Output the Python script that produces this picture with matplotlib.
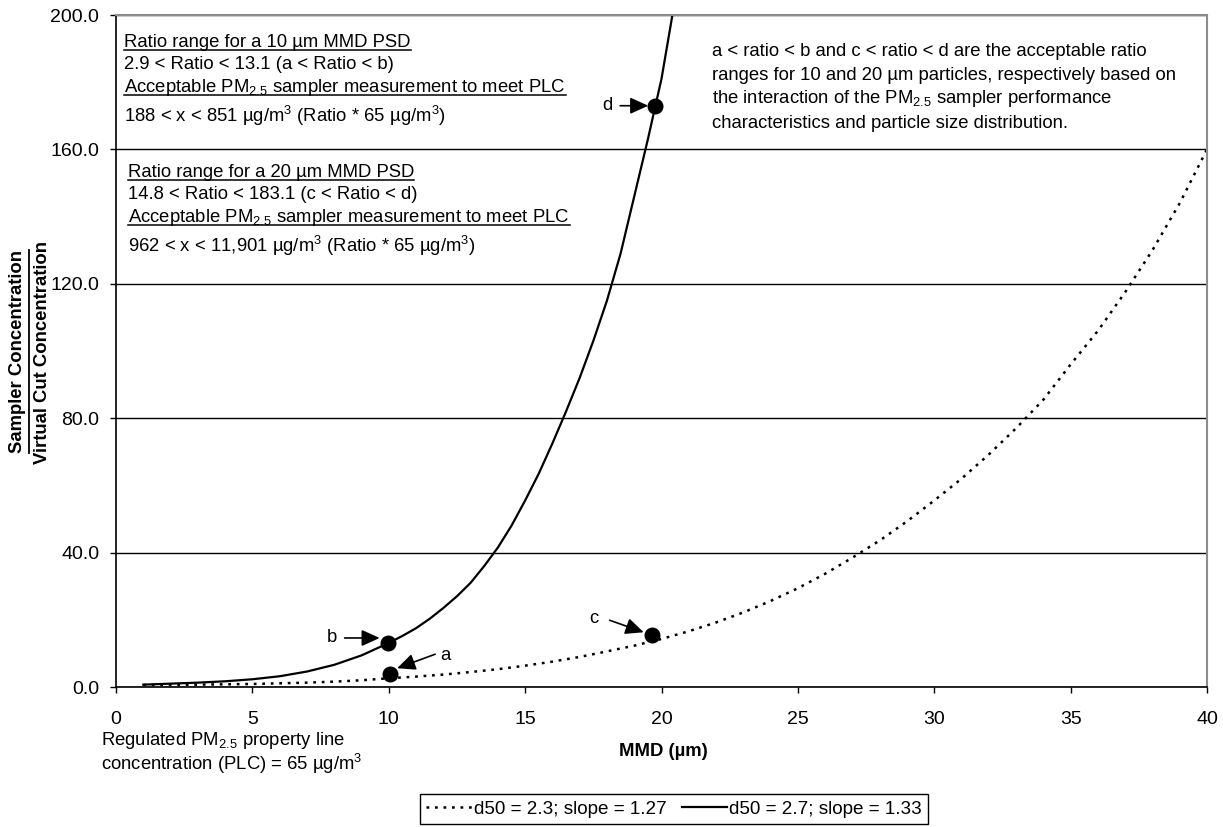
import matplotlib
matplotlib.use("Agg")
import matplotlib.pyplot as plt
from matplotlib.lines import Line2D
from matplotlib.transforms import offset_copy

plt.rcParams['font.family'] = ['Liberation Sans', 'DejaVu Sans']
plt.rcParams['mathtext.fontset'] = 'custom'
plt.rcParams['mathtext.rm'] = 'Liberation Sans'
plt.rcParams['mathtext.it'] = 'Liberation Sans:italic'
plt.rcParams['mathtext.bf'] = 'Liberation Sans:bold'

# curves
mmd_solid = [1, 2, 3, 4, 5, 6, 7, 8, 9, 10, 10.5, 11, 11.5, 12, 12.5, 13, 13.5, 14, 14.5,
             15, 15.5, 16, 16.5, 17, 17.5, 18, 18.5, 19, 19.5, 20, 20.4]
ratio_solid = [0.7, 1.0, 1.3, 1.7, 2.3, 3.2, 4.6, 6.6, 9.4, 13.1, 15.2, 17.5, 20.3, 23.5, 27.0,
               31.0, 36.0, 41.5, 48.0, 55.5, 63.5, 72.5, 82.0, 92.0, 103.0, 115.0, 129.0,
               146.0, 163.0, 181.0, 200.0]

mmd_dotted = list(range(1, 41))
ratio_dotted = [0.6, 0.6, 0.7, 0.8, 0.9, 1.1, 1.3, 1.6, 2.0, 2.6, 3.1, 3.7, 4.45, 5.3, 6.35,
                7.55, 8.95, 10.6, 12.3, 14.3, 16.6, 19.2, 22.2, 25.6, 29.4, 33.7, 38.5, 43.6,
                49.3, 55.5, 62.0, 69.2, 77.0, 85.5, 96.0, 106.0, 117.5, 130.0, 144.0, 160.0]

point_names = ['a', 'b', 'c', 'd']
point_mmd = [10.05, 9.96, 19.64, 19.77]
point_ratio = [3.8, 13.1, 15.4, 173.0]

legend_labels = ['d50 = 2.3; slope = 1.27', 'd50 = 2.7; slope = 1.33']

W, H = 1223, 827
FS = 13.3


def fx(x):
    return x / W


def fy(y):
    return 1 - y / H


fig = plt.figure(figsize=(W / 100, H / 100), dpi=100)
ax = fig.add_axes([fx(116), fy(687), fx(1207) - fx(116), fy(15) - fy(687)])

l_dot, = ax.plot(mmd_dotted, ratio_dotted, color='black', lw=1.8,
                 linestyle=(0, (1.1, 2.3)), label=legend_labels[0])
l_sol, = ax.plot(mmd_solid, ratio_solid, color='black', lw=1.6, label=legend_labels[1])
ax.plot(point_mmd, point_ratio, 'o', color='black', ms=10.5, zorder=5)

ax.set_xlim(0, 40)
ax.set_ylim(0, 200)
ax.set_xticks(range(0, 41, 5))
ax.set_yticks(range(0, 201, 40))
ax.set_yticklabels(['%.1f' % v for v in range(0, 201, 40)])
ax.tick_params(axis='both', labelsize=14, direction='out', length=4, width=1, color='black')
ax.tick_params(axis='x', pad=13.5)
ax.tick_params(axis='y', pad=8)
ax.yaxis.grid(True, color='black', lw=1)
ax.set_axisbelow(True)
for s in ['top', 'right']:
    ax.spines[s].set_color('#8c8c8c')
    ax.spines[s].set_linewidth(1.5)
for s in ['left', 'bottom']:
    ax.spines[s].set_color('black')
    ax.spines[s].set_linewidth(1.2)

# labels and arrows for a-d, offsets in pixels (label, arrow tail, arrow head)
offsets = {
    'a': ((55, 19), (45, 20), (7, 6)),
    'b': ((-56, 5), (-43, 5), (-8, 5)),
    'c': ((-58, 17), (-42, 15), (-8, 3)),
    'd': ((-48, 0), (-35, 0), (-7, 0)),
}
k = 0.72
for name, mx, my in zip(point_names, point_mmd, point_ratio):
    lab, tail, head = offsets[name]
    ax.annotate(name, xy=(mx, my), xytext=(lab[0] * k, lab[1] * k), textcoords='offset points',
                ha='center', va='center', fontsize=FS)
    tr = offset_copy(ax.transData, fig=fig, x=head[0] * k, y=head[1] * k, units='points')
    ax.annotate('', xy=(mx, my), xycoords=tr,
                xytext=((tail[0] - head[0]) * k, (tail[1] - head[1]) * k), textcoords='offset points',
                arrowprops=dict(arrowstyle='-|>,head_length=0.55,head_width=0.25', color='black',
                                lw=1.2, shrinkA=0, shrinkB=0, mutation_scale=20))

PM = r'PM$_{\mathrm{2.5}}$'
UG = r'µg/m$^{\mathrm{3}}$'

underlined = []


def put(x, y, s, under=False, **kw):
    t = fig.text(fx(x), fy(y), s, fontsize=FS, va='baseline', ha='left', **kw)
    if under:
        underlined.append(t)
    return t


put(124, 47, 'Ratio range for a 10 µm MMD PSD', under=True)
put(124, 69, '2.9 < Ratio < 13.1 (a < Ratio < b)')
put(124, 92, 'Acceptable ' + PM + ' sampler measurement to meet PLC', under=True)
put(124, 122, '188 < x < 851 ' + UG + ' (Ratio * 65 ' + UG + ')')

put(128, 177, 'Ratio range for a 20 µm MMD PSD', under=True)
put(128, 199, '14.8 < Ratio < 183.1 (c < Ratio < d)')
put(128, 222, 'Acceptable ' + PM + ' sampler measurement to meet PLC', under=True)
put(128, 252, '962 < x < 11,901 ' + UG + ' (Ratio * 65 ' + UG + ')')

put(712, 56, 'a < ratio < b and c < ratio < d are the acceptable ratio')
put(712, 80, 'ranges for 10 and 20 µm particles, respectively based on')
put(712, 103, 'the interaction of the ' + PM + ' sampler performance')
put(712, 128, 'characteristics and particle size distribution.')

put(101, 745, 'Regulated ' + PM + ' property line')
put(101, 770, 'concentration (PLC) = 65 ' + UG)

fig.text(fx(663), fy(756), 'MMD (µm)', fontsize=FS, fontweight='bold', ha='center', va='baseline')

ylab1 = fig.text(fx(18), fy(351), 'Sampler Concentration', fontsize=FS, fontweight='bold',
                 rotation=90, ha='center', va='center')
fig.text(fx(43), fy(352), 'Virtual Cut Concentration', fontsize=FS, fontweight='bold',
         rotation=90, ha='center', va='center')

fig.legend(handles=[l_dot, l_sol], loc='center', bbox_to_anchor=(fx(674), fy(809)), ncol=2,
           fontsize=13.6, frameon=True, fancybox=False, edgecolor='black', framealpha=1,
           handlelength=2.4, handletextpad=0.1, columnspacing=0.8, borderpad=0.35,
           borderaxespad=0)

# underlines
fig.canvas.draw()
r = fig.canvas.get_renderer()
for t in underlined:
    bb = t.get_window_extent(r)
    _, by = fig.transFigure.transform(t.get_position())
    yline = (by - 3) / H
    fig.add_artist(Line2D([bb.x0 / W, bb.x1 / W], [yline, yline], color='black', lw=1.1))
bb = ylab1.get_window_extent(r)
xl = (bb.x1 + 2) / W
fig.add_artist(Line2D([xl, xl], [bb.y0 / H, bb.y1 / H], color='black', lw=1.3))

fig.savefig('out.png', dpi=100)
